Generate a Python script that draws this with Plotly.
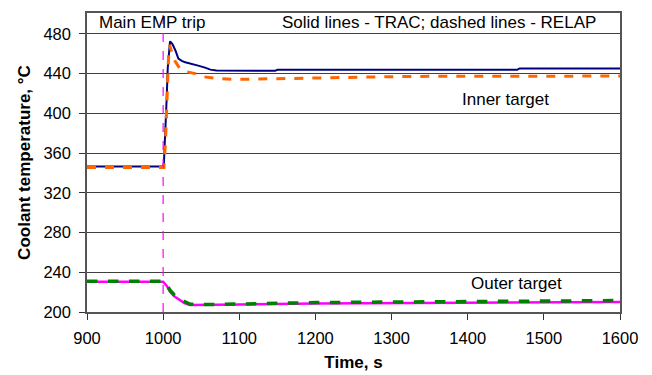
import plotly.graph_objects as go

# Inner target, TRAC (solid)
t_inner_trac = [900, 1000, 1001, 1002.6, 1004.8, 1006, 1008, 1009, 1012, 1016, 1020, 1025, 1029, 1035, 1046, 1055, 1062, 1070, 1100, 1147, 1150, 1300, 1465, 1468, 1600]
y_inner_trac = [346.5, 346.5, 350, 375, 418, 445, 466, 472.5, 470, 463.5, 455, 452.5, 451.5, 450, 448, 446, 444, 443, 442.8, 442.8, 443.8, 443.8, 443.8, 445.2, 445.2]

# Inner target, RELAP (dashed)
t_inner_relap = [900, 1001, 1003, 1005, 1007, 1008.5, 1011, 1016, 1022, 1030, 1042, 1051, 1072, 1095, 1150, 1200, 1280, 1350, 1600]
y_inner_relap = [345.5, 345.5, 370, 420, 455, 469, 462, 452, 445, 442, 440, 437, 435, 434.2, 434.5, 435.5, 436.7, 437.3, 437.5]

# Outer target, TRAC (solid)
t_outer_trac = [900, 1000, 1005, 1009, 1015, 1022, 1028, 1035, 1050, 1100, 1200, 1400, 1600]
y_outer_trac = [230.5, 230.5, 226, 220.5, 215.5, 211.5, 209, 207, 207, 207.5, 208.5, 209.5, 210]

# Outer target, RELAP (dashed)
t_outer_relap = [900, 1000, 1005, 1009, 1015, 1022, 1028, 1035, 1050, 1100, 1200, 1400, 1600]
y_outer_relap = [231, 231, 227, 222, 217, 213, 210.5, 208, 207.5, 208, 209.5, 210.5, 211.5]

trip_time = 1000
x_ticks = [900, 1000, 1100, 1200, 1300, 1400, 1500, 1600]
y_ticks = [200, 240, 280, 320, 360, 400, 440, 480]

FONT = "Liberation Sans, Arial, sans-serif"

fig = go.Figure()
fig.add_trace(go.Scatter(x=t_outer_trac, y=y_outer_trac, mode="lines",
                         line=dict(color="#FF00FF", width=2.5)))
fig.add_trace(go.Scatter(x=t_outer_relap, y=y_outer_relap, mode="lines",
                         line=dict(color="#008000", width=3.5, dash="dash")))
fig.add_trace(go.Scatter(x=t_inner_trac, y=y_inner_trac, mode="lines",
                         line=dict(color="#000080", width=2)))
fig.add_trace(go.Scatter(x=t_inner_relap, y=y_inner_relap, mode="lines",
                         line=dict(color="#FF6600", width=3, dash="dash")))

fig.add_vline(x=trip_time, line=dict(color="#FF00FF", width=1.2, dash="dash"))

fig.add_annotation(x=913, y=491, text="Main EMP trip", showarrow=False,
                   xanchor="left", yanchor="middle", font=dict(size=17, color="black", family=FONT))
fig.add_annotation(x=1154, y=491, text="Solid lines - TRAC; dashed lines - RELAP", showarrow=False,
                   xanchor="left", yanchor="middle", font=dict(size=17, color="black", family=FONT))
fig.add_annotation(x=1450, y=414, text="Inner target", showarrow=False,
                   xanchor="center", yanchor="middle", font=dict(size=17, color="black", family=FONT))
fig.add_annotation(x=1464, y=229, text="Outer target", showarrow=False,
                   xanchor="center", yanchor="middle", font=dict(size=17, color="black", family=FONT))

fig.update_layout(
    width=652, height=375,
    margin=dict(l=79, r=40, t=3, b=71),
    paper_bgcolor="white", plot_bgcolor="white",
    showlegend=False,
    font=dict(family=FONT, color="black", size=16.5),
)
fig.update_xaxes(range=[900, 1600], tickvals=x_ticks, ticks="outside", ticklen=6,
                 tickcolor="#333", showgrid=False, zeroline=False,
                 showline=True, linecolor="#555", linewidth=1.5, mirror=True,
                 ticklabelstandoff=4,
                 title=dict(text="<b>Time, s</b>", font=dict(size=17), standoff=11),
                 tickfont=dict(size=16.5))
fig.update_yaxes(range=[200, 501], tickvals=y_ticks, ticks="outside", ticklen=6,
                 tickcolor="#333", showgrid=True, gridcolor="#404040", gridwidth=1,
                 zeroline=False, showline=True, linecolor="#555", linewidth=1.5, mirror=True,
                 ticklabelstandoff=5,
                 title=dict(text="<b>Coolant temperature, °C</b>", font=dict(size=17), standoff=8),
                 tickfont=dict(size=16.5))

fig.write_html("out.html")
